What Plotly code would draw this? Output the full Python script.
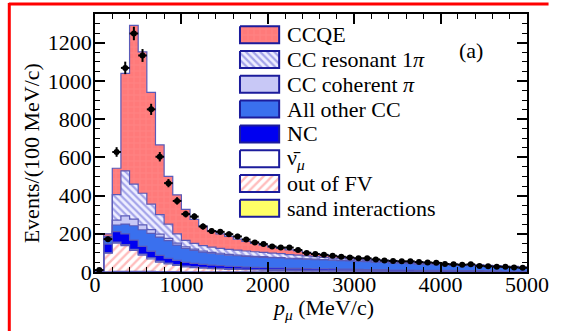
import numpy as np
import plotly.graph_objects as go

# ---------------- data (100 MeV/c bins, 0-5000 MeV/c) ----------------
bin_edges = list(range(0, 5001, 100))

sand = [0, 1, 3, 3, 3, 3, 3, 2, 2, 2,
        1, 1, 1, 1, 1, 1, 1, 1, 1, 1,
        1, 1, 1, 1, 1, 1, 1, 1, 1, 1,
        1, 1, 1, 1, 0, 0, 0, 0, 0, 0,
        0, 0, 0, 0, 0, 0, 0, 0, 0, 0]
out_fv = [1, 98, 148, 135, 110, 85, 65, 50, 40, 32,
          26, 22, 19, 17, 15, 13, 12, 11, 10, 9,
          8, 8, 7, 7, 6, 6, 6, 5, 5, 5,
          4, 4, 4, 4, 3, 3, 3, 3, 3, 3,
          2, 2, 2, 2, 2, 2, 2, 1, 1, 1]
antinu = [0, 2, 5, 6, 6, 6, 6, 5, 5, 5,
          4, 4, 4, 3, 3, 3, 3, 3, 3, 3,
          3, 3, 3, 3, 3, 3, 3, 3, 3, 3,
          3, 2, 2, 2, 2, 2, 2, 2, 2, 2,
          2, 2, 2, 2, 2, 1, 1, 1, 1, 1]
nc = [1, 45, 55, 55, 48, 40, 35, 30, 25, 22,
      20, 18, 16, 15, 14, 13, 12, 11, 10, 10,
      9, 9, 8, 8, 8, 7, 7, 7, 6, 6,
      6, 6, 5, 5, 5, 5, 5, 4, 4, 4,
      4, 4, 3, 3, 3, 3, 3, 2, 2, 2]
other_cc = [0, 30, 35, 52, 75, 87, 93, 96, 92, 80,
            72, 68, 64, 62, 60, 58, 57, 56, 55, 54,
            54, 53, 51, 50, 49, 48, 47, 46, 45, 44,
            42, 41, 40, 38, 37, 35, 34, 32, 31, 30,
            29, 28, 27, 26, 25, 24, 22, 21, 20, 17]
cc_coh = [0, 5, 25, 43, 35, 26, 20, 15, 12, 10,
          8, 7, 6, 5, 5, 4, 4, 3, 3, 3,
          2, 2, 2, 2, 2, 2, 1, 1, 1, 1,
          1, 1, 1, 1, 1, 1, 1, 1, 1, 1,
          1, 1, 1, 1, 1, 1, 1, 1, 1, 1]
cc_res = [0, 5, 134, 235, 183, 165, 133, 102, 74, 48,
          34, 30, 28, 27, 26, 26, 25, 25, 24, 23,
          22, 20, 19, 17, 15, 13, 12, 10, 9, 8,
          7, 6, 6, 5, 5, 4, 4, 4, 3, 3,
          2, 2, 2, 2, 2, 2, 2, 2, 2, 2]
ccqe = [3, 14, 138, 510, 831, 740, 585, 365, 250, 205,
        163, 125, 102, 85, 76, 68, 58, 50, 44, 37,
        31, 28, 25, 22, 19, 16, 14, 12, 10, 8,
        7, 6, 6, 5, 5, 4, 4, 4, 3, 3,
        2, 2, 2, 2, 2, 2, 2, 2, 2, 2]
data = [10, 172, 628, 1068, 1248, 1133, 851, 603, 465, 372,
        303, 290, 238, 214, 210, 198, 186, 170, 155, 146,
        134, 128, 128, 115, 100, 94, 90, 85, 80, 76,
        72, 72, 66, 60, 58, 56, 56, 52, 50, 48,
        42, 40, 38, 40, 32, 30, 28, 27, 24, 22]

legend_labels = ["CCQE", "CC resonant 1<i>π</i>", "CC coherent <i>π</i>",
                 "All other CC", "NC", "ν̄<sub><i>μ</i></sub>", "out of FV",
                 "sand interactions"]
x_ticks = [0, 1000, 2000, 3000, 4000, 5000]
y_ticks = [0, 200, 400, 600, 800, 1000, 1200]

# ---------------- styles (bottom -> top of the stack) ----------------
OUTL = "#5a5ab8"
styles = {
    "sand": dict(color="#ffff66", pattern=None),
    "outfv": dict(color="#ffffff", pattern=dict(shape="/", fgcolor="#ff7a7a", bgcolor="#ffffff", size=6, solidity=0.4)),
    "antinu": dict(color="#ffffff", pattern=None),
    "nc": dict(color="#0000f0", pattern=None),
    "other": dict(color="#3a70ee", pattern=None),
    "coh": dict(color="#c8c8f6", pattern=None),
    "res": dict(color="#ffffff", pattern=dict(shape="\\", fgcolor="#5a5ad4", bgcolor="#eeeeff", size=5, solidity=0.45)),
    "ccqe": dict(color="#ff7a7a", pattern=dict(shape="+", fgcolor="#ffa8a8", bgcolor="#ff7a7a", size=6, solidity=0.12)),
}
stack = [("sand", sand), ("outfv", out_fv), ("antinu", antinu), ("nc", nc),
         ("other", other_cc), ("coh", cc_coh), ("res", cc_res), ("ccqe", ccqe)]
legend_keys = ["ccqe", "res", "coh", "other", "nc", "antinu", "outfv", "sand"]

edges = np.array(bin_edges, dtype=float)
centers = 0.5 * (edges[:-1] + edges[1:])

fig = go.Figure()
cum = np.zeros(len(centers))
for i, (key, vals) in enumerate(stack):
    cum = cum + np.array(vals, dtype=float)
    ys = np.append(cum, cum[-1])
    st = styles[key]
    kw = dict(fillcolor=st["color"])
    if st["pattern"] is not None:
        kw["fillpattern"] = st["pattern"]
    fig.add_trace(go.Scatter(
        x=edges, y=ys, mode="lines", line=dict(shape="hv", color=OUTL, width=1.2),
        fill="tozeroy" if i == 0 else "tonexty", showlegend=False, hoverinfo="skip", **kw))

d = np.array(data, dtype=float)
fig.add_trace(go.Scatter(
    x=centers, y=d, mode="markers",
    marker=dict(color="black", size=6),
    error_y=dict(type="data", array=np.sqrt(d), thickness=2, width=0, color="black"),
    error_x=dict(type="constant", value=50, thickness=2, width=0, color="black"),
    showlegend=False))

# ---------------- geometry helpers (page pixels) ----------------
W, H = 561, 331
L, R, T, B = 95, 25, 14, 59
PX0, PX1, PY0, PY1 = L, W - R, T, H - B

def px(x):
    return (x - PX0) / (PX1 - PX0)

def py(y):
    return (PY1 - y) / (PY1 - PY0)

FONT = "Liberation Serif"

# custom legend (swatches on an overlay axis in pixel units)
sw_x0, sw_x1 = 243, 283
row0, row_dy, sw_h = 34.7, 24.8, 17
annotations = []
for i, (key, lab) in enumerate(zip(legend_keys, legend_labels)):
    yc = row0 + row_dy * i
    st = styles[key]
    kw = dict(fillcolor=st["color"])
    if st["pattern"] is not None:
        kw["fillpattern"] = st["pattern"]
    fig.add_trace(go.Scatter(
        x=[sw_x0, sw_x1, sw_x1, sw_x0, sw_x0],
        y=[yc - sw_h / 2, yc - sw_h / 2, yc + sw_h / 2, yc + sw_h / 2, yc - sw_h / 2],
        xaxis="x2", yaxis="y2", mode="lines", fill="toself",
        line=dict(color="#1c1c9c", width=2), showlegend=False, hoverinfo="skip", **kw))
    annotations.append(dict(x=289, y=yc, xref="x2", yref="y2", text=lab, showarrow=False,
                            xanchor="left", yanchor="middle",
                            font=dict(family=FONT, size=22, color="black")))

annotations.append(dict(x=479, y=50, xref="x2", yref="y2", text="(a)", showarrow=False,
                        xanchor="center", yanchor="middle",
                        font=dict(family=FONT, size=22, color="black")))
annotations.append(dict(x=px(30), y=py(153), xref="paper", yref="paper",
                        text="Events/(100 MeV/c)", textangle=-90, showarrow=False,
                        xanchor="center", yanchor="middle",
                        font=dict(family=FONT, size=22, color="black")))
annotations.append(dict(x=px(328), y=py(309), xref="paper", yref="paper",
                        text="<i>p</i><sub><i>μ</i></sub> (MeV/c)", showarrow=False,
                        xanchor="center", yanchor="middle",
                        font=dict(family=FONT, size=22, color="black")))

shapes = [
    dict(type="line", xref="paper", yref="paper", x0=px(7), x1=px(558), y0=py(4), y1=py(4),
         line=dict(color="#ff0000", width=3)),
    dict(type="line", xref="paper", yref="paper", x0=px(7.5), x1=px(7.5), y0=py(3), y1=py(340),
         line=dict(color="#ff0000", width=3)),
]

axis_common = dict(showline=True, linecolor="black", linewidth=1.5, mirror="ticks",
                   ticks="inside", ticklen=10, tickwidth=1.5, tickcolor="black",
                   showgrid=False, zeroline=False,
                   tickfont=dict(family=FONT, size=22, color="black"))

fig.update_layout(
    width=W, height=H, margin=dict(l=L, r=R, t=T, b=B),
    paper_bgcolor="white", plot_bgcolor="white", showlegend=False,
    xaxis=dict(range=[0, 5000], tickvals=x_ticks, ticktext=[str(v) for v in x_ticks],
               ticklabelstandoff=-8,
               minor=dict(ticks="inside", ticklen=5, dtick=200, tickwidth=1.2, tickcolor="black", showgrid=False),
               **axis_common),
    yaxis=dict(range=[0, 1350], tickvals=y_ticks, ticktext=[str(v) for v in y_ticks],
               ticklabelstandoff=-3,
               minor=dict(ticks="inside", ticklen=5, dtick=50, tickwidth=1.2, tickcolor="black", showgrid=False),
               **axis_common),
    xaxis2=dict(range=[PX0, PX1], overlaying="x", anchor="y2", visible=False, fixedrange=True),
    yaxis2=dict(range=[PY1, PY0], overlaying="y", anchor="x2", visible=False, fixedrange=True),
    annotations=annotations, shapes=shapes,
)

fig.write_html("out.html")
